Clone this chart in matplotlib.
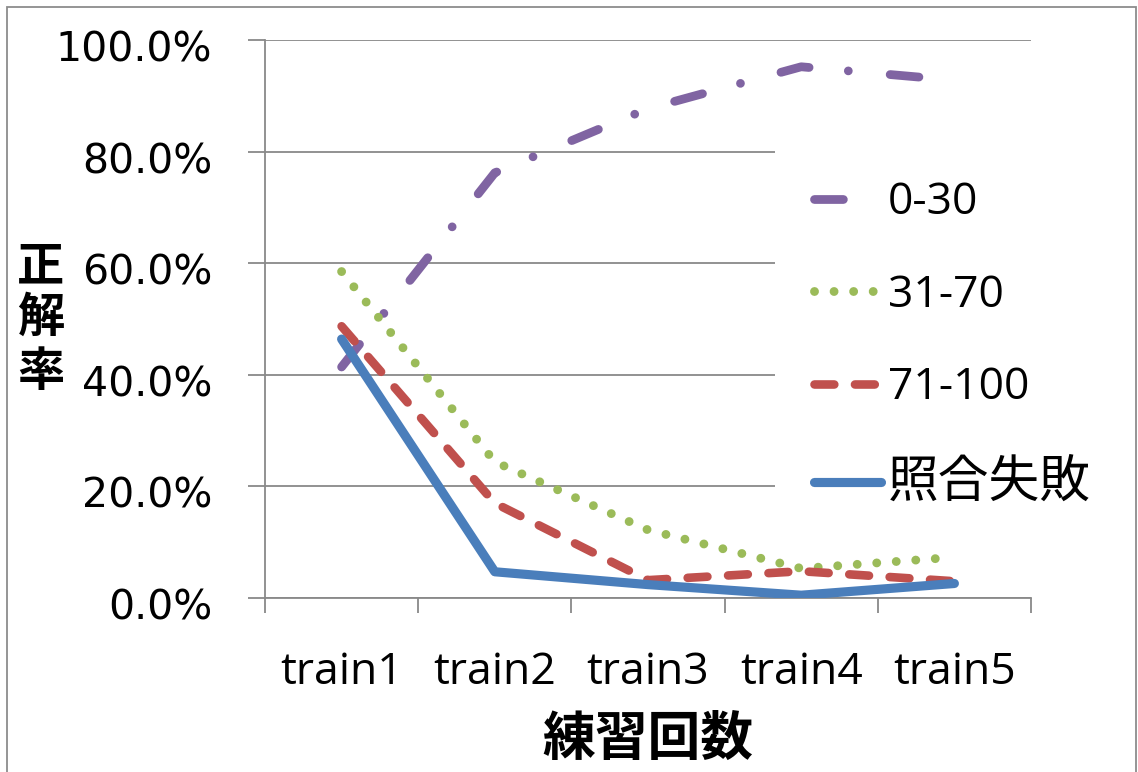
import matplotlib
matplotlib.use("Agg")
import matplotlib.pyplot as plt
import matplotlib.transforms as mtransforms
from matplotlib.patches import Rectangle
from matplotlib.ticker import FuncFormatter, FixedLocator

# ---- data -------------------------------------------------------------
categories = ["train1", "train2", "train3", "train4", "train5"]
series_names = ["0-30", "31-70", "71-100", "照合失敗"]
acc_0_30 = [0.414, 0.762, 0.877, 0.952, 0.928]
acc_31_70 = [0.585, 0.244, 0.122, 0.053, 0.073]
acc_71_100 = [0.487, 0.170, 0.032, 0.048, 0.030]
acc_fail = [0.464, 0.047, 0.024, 0.005, 0.026]
y_ticks = [0.0, 0.2, 0.4, 0.6, 0.8, 1.0]
x_title = "練習回数"
y_title = "正解率"

# ---- figure -----------------------------------------------------------
W, H = 1138, 772
fig = plt.figure(figsize=(W / 100, H / 100), dpi=100)
fig.patch.set_facecolor("white")

def px(x, y):
    """figure pixel (from top-left) -> figure fraction"""
    return x / W, 1 - y / H

ax = fig.add_axes([265 / W, 1 - 598 / H, 766 / W, 558 / H])
ax.set_xlim(-0.5, len(categories) - 0.5)
ax.set_ylim(0, 1)

GRID = "#898989"
ax.set_yticks(y_ticks)
ax.yaxis.set_major_formatter(FuncFormatter(lambda v, p: f"{v * 100:.1f}%"))
ax.grid(axis="y", color=GRID, lw=1.3, zorder=0)
ax.set_axisbelow(True)
for s in ("top", "right"):
    ax.spines[s].set_visible(False)
for s in ("left", "bottom"):
    ax.spines[s].set_color(GRID)
    ax.spines[s].set_linewidth(1.3)

ax.tick_params(axis="y", direction="out", length=12, width=1.3, color=GRID,
               pad=26, labelsize=29.5)
for lab in ax.get_yticklabels():
    lab.set_family("DejaVu Sans")
    lab.set_transform(lab.get_transform() +
                      mtransforms.ScaledTranslation(0, -6 / 100, fig.dpi_scale_trans))

x = list(range(len(categories)))
ax.set_xticks(x)
ax.set_xticklabels(categories, family="Open Sans", fontsize=32)
ax.tick_params(axis="x", which="major", length=0, pad=38)
ax.xaxis.set_minor_locator(FixedLocator([i - 0.5 for i in range(len(categories) + 1)]))
ax.tick_params(axis="x", which="minor", direction="out", length=11, width=1.3, color=GRID)

# ---- series -----------------------------------------------------------
l1, = ax.plot(x, acc_0_30, color="#8064A2", lw=6.3, dashes=(3.3, 4.5, 0.001, 4.8),
              dash_capstyle="round", dash_joinstyle="round", zorder=3)
l2, = ax.plot(x, acc_31_70, color="#9BBB59", lw=6.4, dashes=(0.001, 2.2),
              dash_capstyle="round", dash_joinstyle="round", zorder=4)
l3, = ax.plot(x, acc_71_100, color="#C0504D", lw=6.2, dashes=(2.3, 2.4),
              dash_capstyle="round", dash_joinstyle="round", zorder=5)
l4, = ax.plot(x, acc_fail, color="#4A7EBB", lw=6.6,
              solid_capstyle="round", solid_joinstyle="round", zorder=6)

fs = 32
fs_px = fs * 100 / 72
leg = ax.legend([l1, l2, l3, l4], series_names, loc="center left",
                bbox_to_anchor=px(775, 345), bbox_transform=fig.transFigure,
                prop={"family": ["Open Sans", "Noto Sans CJK JP"], "size": fs},
                frameon=True, fancybox=False, framealpha=1, facecolor="white",
                edgecolor="none", borderpad=39 / fs_px, borderaxespad=0,
                handlelength=67 / fs_px, handletextpad=7 / fs_px,
                labelspacing=1.08)
leg.get_texts()[3].set_fontsize(36.5)
leg.set_zorder(10)

# ---- axis titles ------------------------------------------------------
fig.text(*px(648, 739), x_title, family="Noto Sans CJK JP", fontweight="bold",
         fontsize=38, ha="center", va="center")
for ch, cy in zip(y_title, [266, 318, 372]):
    fig.text(*px(41, cy), ch, family="Noto Sans CJK JP", fontweight="bold",
             fontsize=34, ha="center", va="center")

# chart-area border
fig.add_artist(Rectangle(px(7, 790), (1136 - 7) / W, (790 - 7) / H,
                         transform=fig.transFigure, fill=False,
                         edgecolor="#8C8C8C", lw=1.3))

fig.savefig("out.png", dpi=100)
